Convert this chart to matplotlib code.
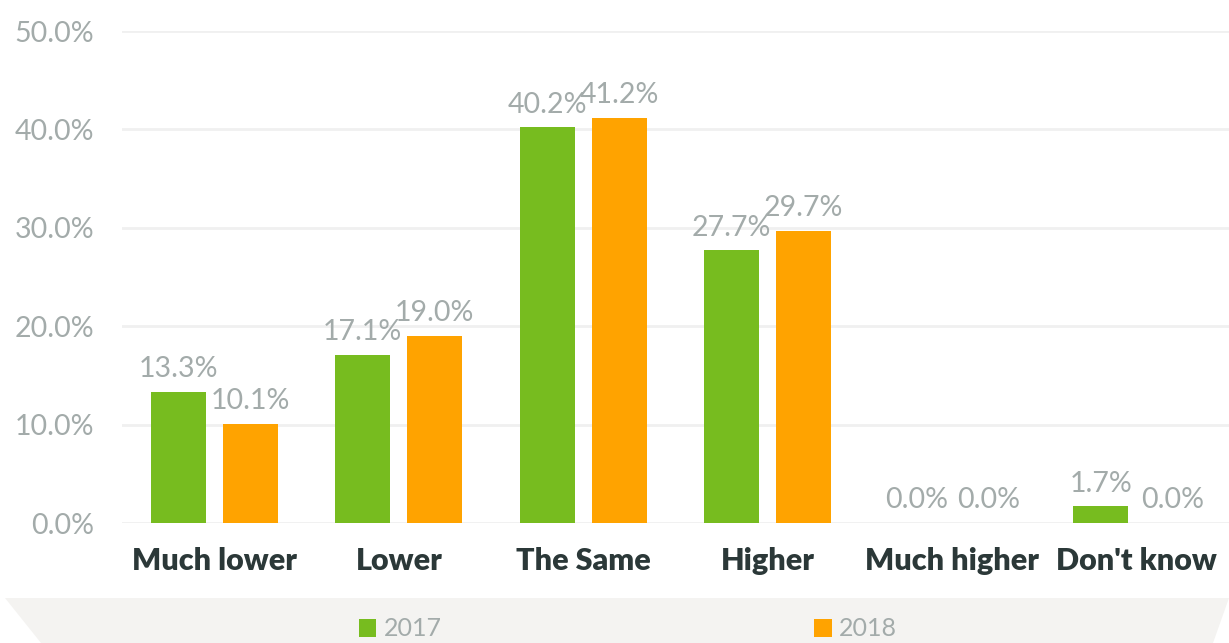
import numpy as np
import matplotlib.pyplot as plt
from matplotlib.patches import Polygon

categories = ["Much lower", "Lower", "The Same", "Higher", "Much higher", "Don't know"]
values_2017 = [13.3, 17.1, 40.2, 27.7, 0.0, 1.7]
values_2018 = [10.1, 19.0, 41.2, 29.7, 0.0, 0.0]
series_names = ["2017", "2018"]
yticks = [0, 10, 20, 30, 40, 50]

green = "#77bc1f"
orange = "#ffa300"
gray_txt = "#a3abaa"
dark_txt = "#2b3838"

plt.rcParams['font.family'] = ['Lato', 'DejaVu Sans']

fig = plt.figure(figsize=(12.29, 6.43), dpi=100)

# legend band at the bottom
band = Polygon([[5 / 1229, 1 - 598 / 643], [1.0, 1 - 598 / 643],
                [1213 / 1229, 0.0], [41 / 1229, 0.0]],
               closed=True, transform=fig.transFigure, facecolor="#f4f3f1",
               edgecolor="none", zorder=0)
fig.patches.append(band)

ax = fig.add_axes([122 / 1229, 1 - 523 / 643, 1 - 122 / 1229, (523 - 31) / 643])

x = np.arange(len(categories))
w = 0.30
off = 0.195
b1 = ax.bar(x - off, values_2017, w, color=green, label=series_names[0], zorder=3)
b2 = ax.bar(x + off, values_2018, w, color=orange, label=series_names[1], zorder=3)

for bars, vals in [(b1, values_2017), (b2, values_2018)]:
    for rect, v in zip(bars, vals):
        ax.annotate(f"{v:.1f}%", (rect.get_x() + rect.get_width() / 2, v),
                    xytext=(0, 7), textcoords="offset points",
                    ha="center", va="bottom", fontsize=20.5, color=gray_txt)

ax.set_xlim(-0.5, len(categories) - 0.5)
ax.set_ylim(0, 50)
ax.set_yticks(yticks)
ax.set_yticklabels([f"{t:.1f}%" for t in yticks], fontsize=20.5, color=gray_txt)
ax.set_xticks(x)
ax.set_xticklabels(categories, fontsize=22, color=dark_txt, fontweight="heavy")
ax.tick_params(axis="both", length=0)
ax.tick_params(axis="y", pad=20)
ax.tick_params(axis="x", pad=17)
ax.grid(axis="y", color="#f0f0f0", linewidth=2, zorder=0)
for s in ax.spines.values():
    s.set_visible(False)

leg = fig.legend(handles=[b1, b2], labels=series_names, loc="center",
                 bbox_to_anchor=(0.511, 1 - 629 / 643), ncol=2, frameon=False,
                 handlelength=0.7, handleheight=0.7, handletextpad=0.3,
                 columnspacing=14.9,
                 prop={"size": 18, "stretch": "condensed"})
for t in leg.get_texts():
    t.set_color(gray_txt)

fig.savefig("out.png", dpi=100)
